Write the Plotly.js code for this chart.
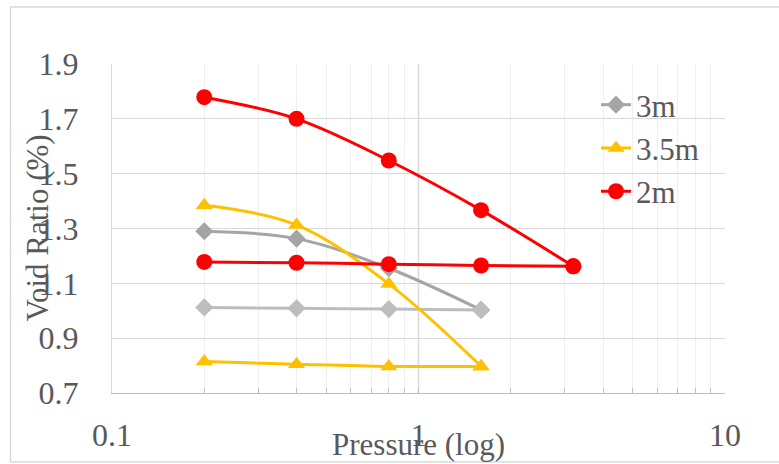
<!DOCTYPE html>
<html>
<head>
<meta charset="utf-8">
<script src="https://cdn.plot.ly/plotly-3.0.1.min.js"></script>
<style>
  .js-plotly-plot text { font-family: 'Times New Roman', 'Liberation Serif', serif !important; }
</style>
</head>
<body style="margin:0">
<div id="chart" style="width:779px;height:464px"></div>
<script>
// Oedometer results: void ratio against pressure, loading then unloading
const seriesNames = ['3m', '3.5m', '2m'];
const seriesColors = ['#A5A5A5', '#FFC000', '#FF0000'];
const returnColors = ['#BDBDBD', '#FFC000', '#FF0000'];
const seriesSymbols = ['diamond', 'triangle-up', 'circle'];
const seriesSizes = [14, 15, 16];

// loading branch
const load3mP = [0.2, 0.4, 0.8, 1.6];
const load3mE = [1.290, 1.263, 1.155, 1.003];
const load35mP = [0.2, 0.4, 0.8, 1.6];
const load35mE = [1.385, 1.313, 1.098, 0.797];
const load2mP = [0.2, 0.4, 0.8, 1.6, 3.2];
const load2mE = [1.779, 1.700, 1.548, 1.367, 1.162];

// unloading branch
const unload3mP = [1.6, 0.8, 0.4, 0.2];
const unload3mE = [1.003, 1.006, 1.009, 1.012];
const unload35mP = [1.6, 0.8, 0.4, 0.2];
const unload35mE = [0.797, 0.797, 0.805, 0.815];
const unload2mP = [3.2, 1.6, 0.8, 0.4, 0.2];
const unload2mE = [1.162, 1.165, 1.170, 1.175, 1.178];

const xTickVals = [0.1, 1, 10];
const xTickText = ['0.1', '1', '10'];
const yTickVals = [0.7, 0.9, 1.1, 1.3, 1.5, 1.7, 1.9];

const xTitle = 'Pressure (log)';
const yTitle = 'Void Ratio (%)';

const loads = [[load3mP, load3mE], [load35mP, load35mE], [load2mP, load2mE]];
const unloads = [[unload3mP, unload3mE], [unload35mP, unload35mE], [unload2mP, unload2mE]];

const textColor = '#595959';
const fontFamily = '"Times New Roman", serif';

const traces = [];
seriesNames.forEach((name, i) => {
  traces.push({
    x: loads[i][0], y: loads[i][1], name: name, legendgroup: name,
    type: 'scatter', mode: 'lines+markers',
    line: { color: seriesColors[i], width: 3, shape: 'spline' },
    marker: { symbol: seriesSymbols[i], size: seriesSizes[i], color: seriesColors[i] },
    showlegend: true
  });
  traces.push({
    x: unloads[i][0], y: unloads[i][1], name: name, legendgroup: name,
    type: 'scatter', mode: 'lines+markers',
    line: { color: returnColors[i], width: 3, shape: 'spline' },
    marker: { symbol: seriesSymbols[i], size: seriesSizes[i], color: returnColors[i] },
    showlegend: false
  });
});

const L = 112, R = 54, T = 64, B = 71, W = 779, H = 464;
const pw = W - L - R, ph = H - T - B;
const px2x = p => (p - L) / pw;
const px2y = p => (H - B - p) / ph;

const layout = {
  width: W, height: H,
  margin: { l: L, r: R, t: T, b: B, pad: 0 },
  paper_bgcolor: '#ffffff', plot_bgcolor: '#ffffff',
  showlegend: true,
  legend: {
    x: px2x(596), y: px2y(78), xanchor: 'left', yanchor: 'top',
    bgcolor: 'rgba(0,0,0,0)', borderwidth: 0,
    font: { family: fontFamily, size: 31, color: textColor },
    traceorder: 'normal', itemwidth: 30, tracegroupgap: 0
  },
  xaxis: {
    type: 'log', range: [-1, 1],
    tickvals: xTickVals, ticktext: xTickText,
    ticks: 'inside', ticklen: 5, tickcolor: '#BFBFBF', tickwidth: 1,
    showgrid: true, gridcolor: '#D9D9D9', gridwidth: 1,
    showline: true, linecolor: '#BFBFBF', linewidth: 1,
    zeroline: false,
    tickfont: { family: fontFamily, size: 32, color: textColor },
    ticklabelstandoff: 14,
    minor: { dtick: 'D1', ticks: 'inside', ticklen: 5, tickcolor: '#BFBFBF',
             showgrid: true, gridcolor: '#EFEFEF', gridwidth: 1 },
    fixedrange: true
  },
  yaxis: {
    range: [0.7, 1.9], tickvals: yTickVals, tickformat: '.1f',
    ticks: '', showgrid: true, gridcolor: '#D9D9D9', gridwidth: 1,
    showline: true, linecolor: '#D9D9D9', linewidth: 1, mirror: false,
    zeroline: false,
    tickfont: { family: fontFamily, size: 32, color: textColor },
    ticklabelstandoff: 26,
    fixedrange: true
  },
  shapes: [
    // value axis line crossing the pressure axis at 1
    { type: 'line', xref: 'x', yref: 'paper', x0: 1, x1: 1, y0: 0, y1: 1,
      line: { color: '#BFBFBF', width: 1.3 }, layer: 'below' },
    // chart area frame
    { type: 'rect', xref: 'paper', yref: 'paper',
      x0: px2x(10.5), x1: px2x(790), y0: px2y(462), y1: px2y(7),
      line: { color: '#D9D9D9', width: 1.5 }, fillcolor: 'rgba(0,0,0,0)', layer: 'below' }
  ],
  annotations: [
    { text: xTitle, xref: 'paper', yref: 'paper', x: px2x(418), y: px2y(445),
      xanchor: 'center', yanchor: 'middle', showarrow: false,
      font: { family: fontFamily, size: 31, color: textColor } },
    { text: yTitle, xref: 'paper', yref: 'paper', x: px2x(37), y: 0.5,
      xanchor: 'center', yanchor: 'middle', textangle: -90, showarrow: false,
      font: { family: fontFamily, size: 31, color: textColor } }
  ]
};

Plotly.newPlot('chart', traces, layout, { staticPlot: true });
</script>
</body>
</html>
